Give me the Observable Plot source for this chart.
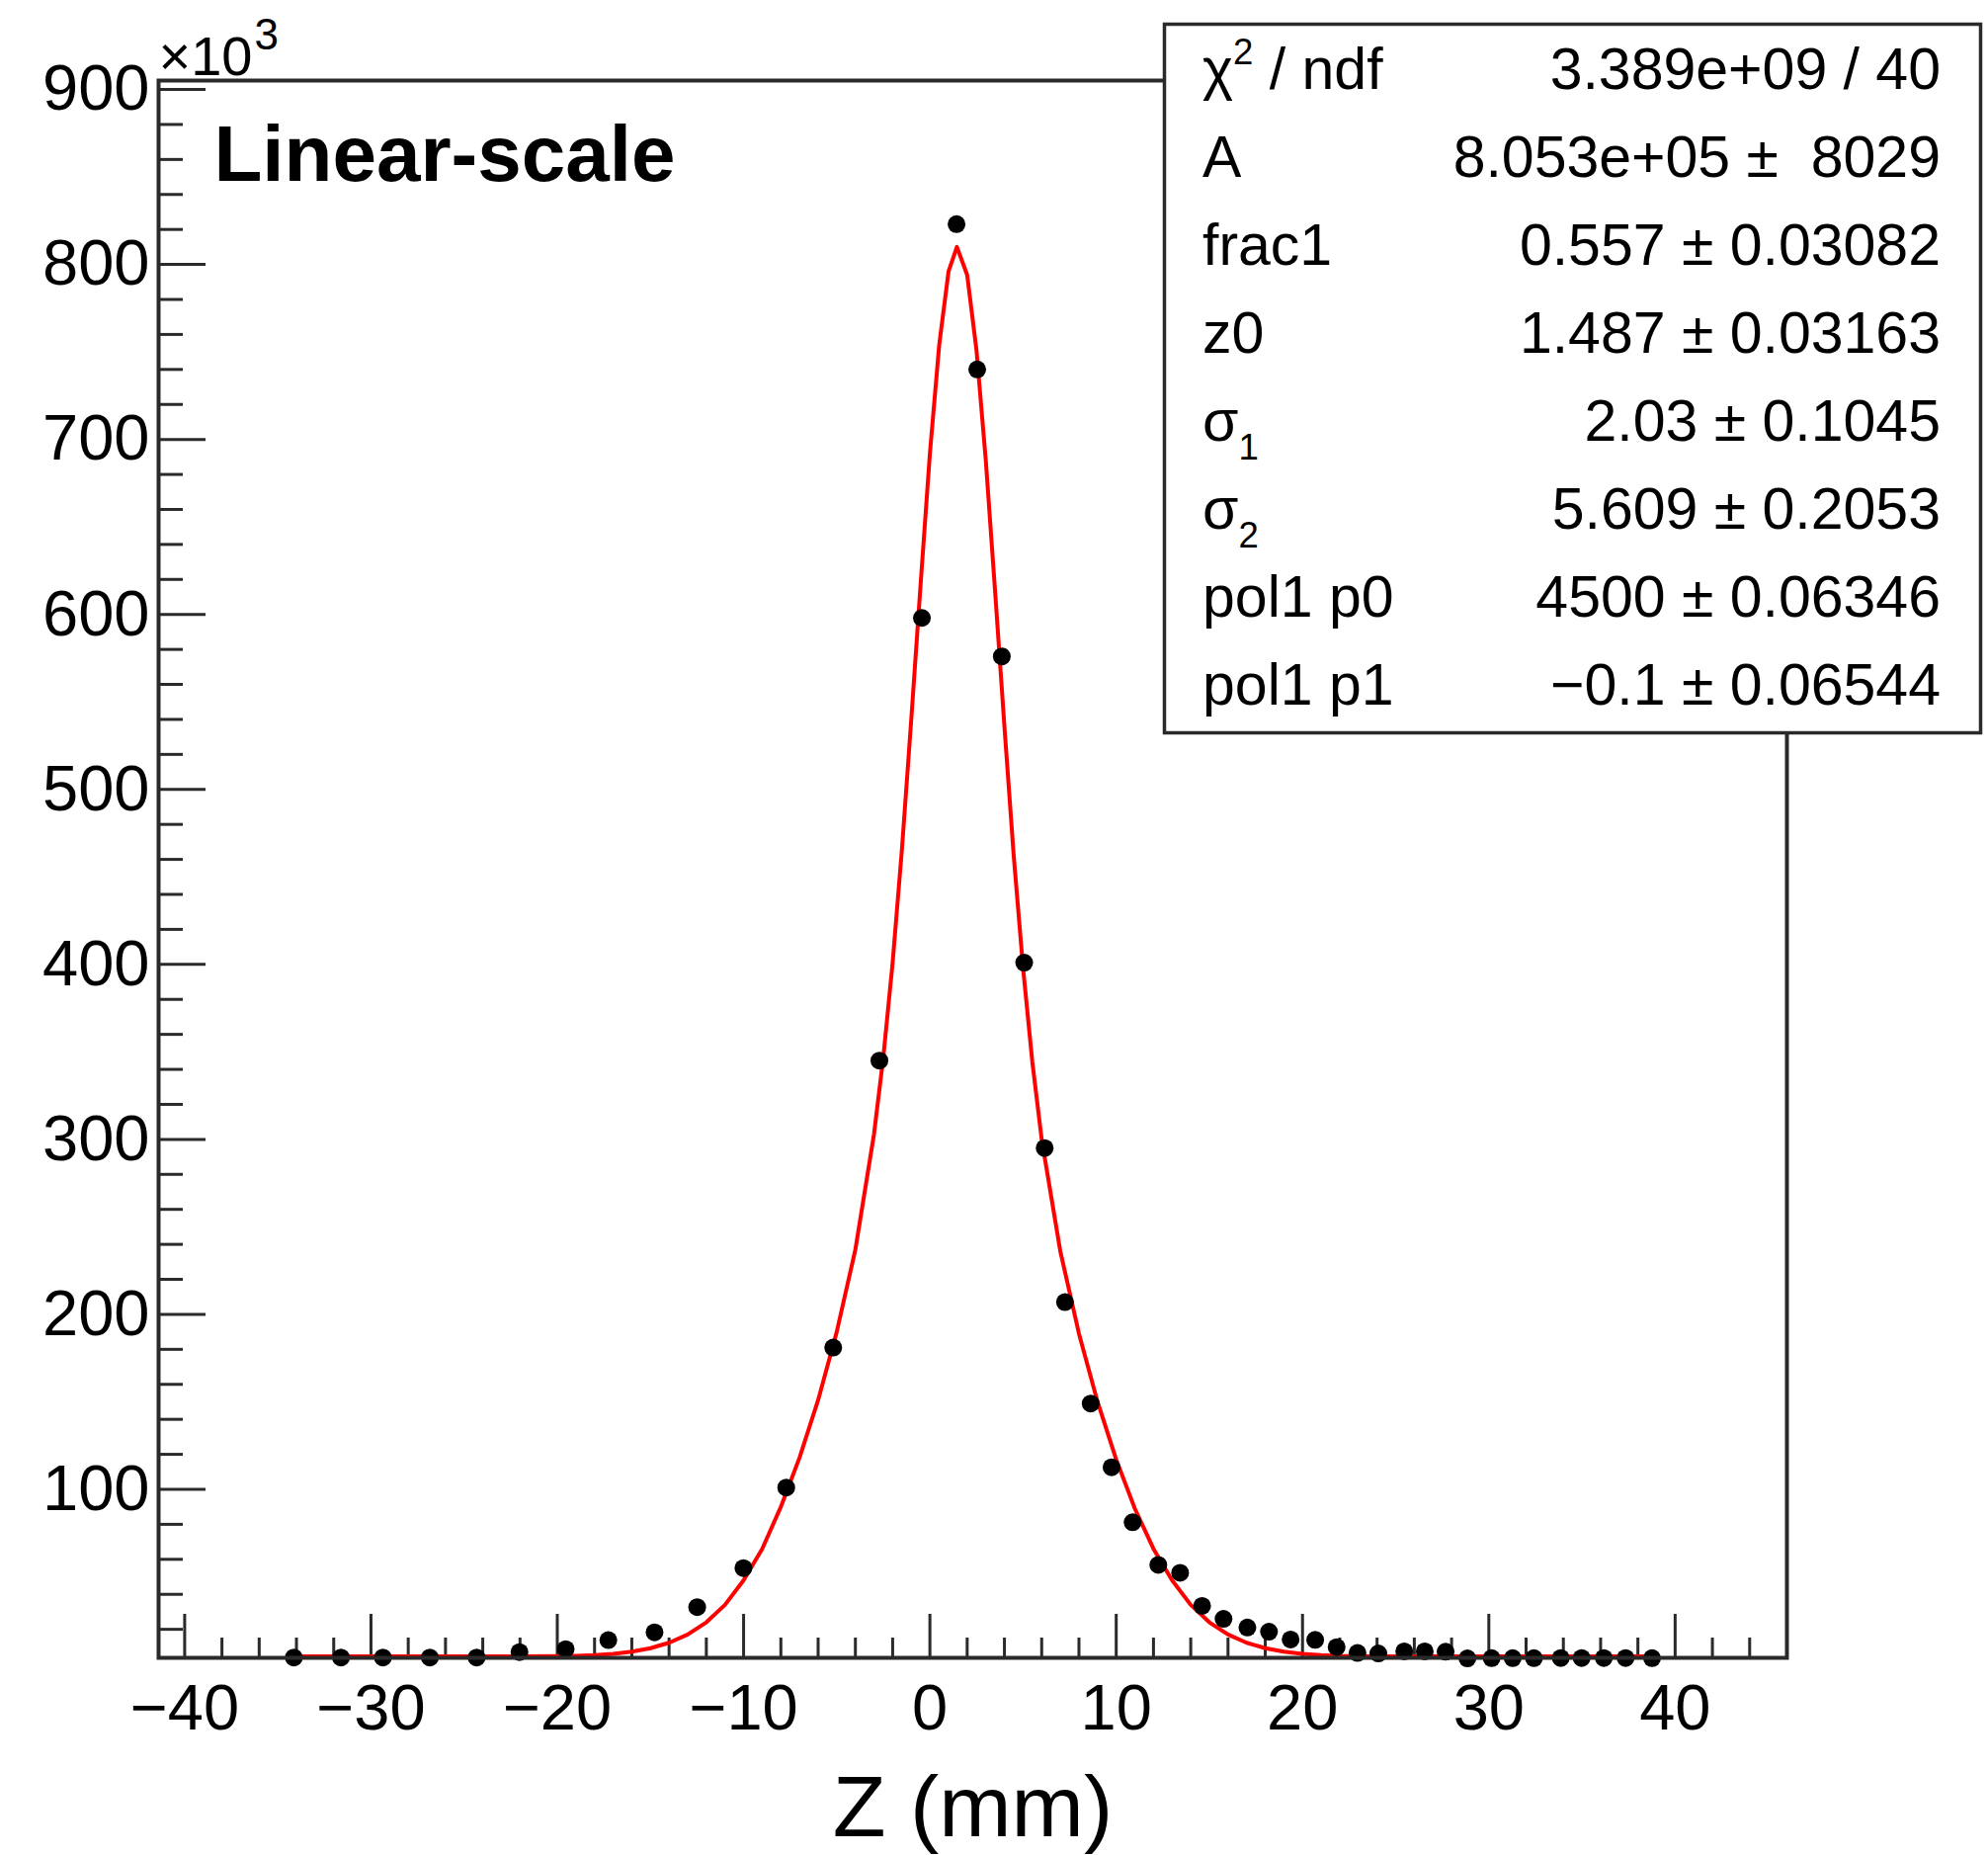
<!DOCTYPE html>
<html>
<head>
<meta charset="utf-8">
<script src="https://cdn.jsdelivr.net/npm/d3@7"></script>
<script src="https://cdn.jsdelivr.net/npm/@observablehq/plot@0.6"></script>
<style>
  html, body { margin: 0; padding: 0; background: #fff; }
  #wrap { position: relative; width: 2012px; height: 1877px; overflow: hidden; }
  #wrap svg { display: block; }
  #stats { position: absolute; left: 0; top: 0; pointer-events: none; }
</style>
</head>
<body>
<div id="wrap"></div>
<script>
// ---------- data (values in units of 10^3 counts) ----------
const zData = [-34.14, -31.61, -29.36, -26.84, -24.33, -22.03, -19.55, -17.26, -14.78, -12.49,
  -10.01, -7.71, -5.19, -2.71, -0.43, 1.43, 2.54, 3.86, 5.06, 6.16,
  7.25, 8.63, 9.75, 10.88, 12.26, 13.43, 14.61, 15.76, 17.04, 18.2,
  19.36, 20.68, 21.83, 22.95, 24.07, 25.46, 26.56, 27.68, 28.85, 30.15,
  31.28, 32.42, 33.86, 34.98, 36.17, 37.34, 38.76];
const vData = [3.9, 3.9, 3.9, 3.9, 3.9, 7.0, 8.7, 13.8, 18.3, 32.7,
  55.0, 101, 181, 345, 598, 823, 740, 576, 401, 295,
  207, 149, 112.6, 81.2, 56.8, 52.3, 33.4, 26.0, 21.0, 18.6,
  14.2, 14.0, 9.8, 6.5, 6.2, 7.4, 7.4, 7.2, 3.4, 3.5,
  3.5, 3.5, 3.6, 3.6, 3.6, 3.6, 3.5];

// fit curve
const zFit = [-34.1, -30, -26, -22, -20, -19, -18, -17, -16, -15, -14, -13, -12, -11, -10,
  -9, -8, -7, -6, -5, -4, -3, -2.5, -2, -1.5, -1, -0.5, 0, 0.5, 1.0, 1.45,
  2.0, 2.5, 3, 3.5, 4, 4.5, 5, 5.5, 6, 7, 8, 9, 10, 11, 12, 13, 14, 15,
  16, 17, 18, 19, 20, 21, 22, 24, 27, 32, 38.8];
const vFit = [4.5, 4.5, 4.5, 4.6, 4.7, 4.9, 5.3, 6.0, 7.2, 9.2, 12.3, 17, 24, 34, 48,
  66, 90, 118, 151, 190, 237, 303, 347, 401, 466, 540, 617, 692, 754, 796, 810,
  794, 751, 688, 613, 536, 462, 398, 344, 300, 236, 189, 150, 117, 89, 66, 48, 34, 24,
  17, 12.3, 9.2, 7.2, 6.0, 5.3, 4.9, 4.6, 4.5, 4.5, 4.5];

const xMajor = [-40, -30, -20, -10, 0, 10, 20, 30, 40];
const xMinor = [-38, -36, -34, -32, -28, -26, -24, -22, -18, -16, -14, -12, -8, -6, -4, -2,
  2, 4, 6, 8, 12, 14, 16, 18, 22, 24, 26, 28, 32, 34, 36, 38, 42, 44];
const yMajor = [100, 200, 300, 400, 500, 600, 700, 800, 900];
const yMinor = [20, 40, 60, 80, 120, 140, 160, 180, 220, 240, 260, 280, 320, 340, 360, 380,
  420, 440, 460, 480, 520, 540, 560, 580, 620, 640, 660, 680, 720, 740, 760, 780,
  820, 840, 860, 880];

const statLabels = ["χ^2 / ndf", "A", "frac1", "z0", "σ_1", "σ_2", "pol1 p0", "pol1 p1"];
const statValues = ["3.389e+09 / 40", "8.053e+05 ±  8029", "0.557 ± 0.03082", "1.487 ± 0.03163",
  "2.03 ± 0.1045", "5.609 ± 0.2053", "4500 ± 0.06346", "−0.1 ± 0.06544"];

const xLabel = "Z (mm)";
const tag = "Linear-scale";
const multiplier = "×10";
const multiplierExp = "3";

// ---------- layout ----------
const W = 2012, H = 1877;
const mL = 160, mR = 204, mT = 81, mB = 200;
const plotW = W - mL - mR, plotH = H - mT - mB;
const FONT = "'Liberation Sans', Arial, Helvetica, sans-serif";
const axisColor = "#2a2a2a";

const data = zData.map((z, i) => ({z, v: vData[i]}));
const fit = zFit.map((z, i) => ({z, v: vFit[i]}));
const fmt = d => (d < 0 ? "\u2212" + Math.abs(d) : String(d));

const chart = Plot.plot({
  width: W, height: H,
  marginLeft: mL, marginRight: mR, marginTop: mT, marginBottom: mB,
  x: {domain: [-41.4, 46.0], label: null},
  y: {domain: [3.7, 905.1], label: null},
  style: {fontFamily: FONT, fontSize: "64px", color: "#000", background: "#fff", overflow: "visible"},
  marks: [
    Plot.tickY(yMajor, {y: d => d, insetRight: plotW - 48, stroke: axisColor, strokeWidth: 3}),
    Plot.tickY(yMinor, {y: d => d, insetRight: plotW - 25, stroke: axisColor, strokeWidth: 3}),
    Plot.tickX(xMajor, {x: d => d, insetTop: plotH - 44, stroke: axisColor, strokeWidth: 3}),
    Plot.tickX(xMinor, {x: d => d, insetTop: plotH - 20, stroke: axisColor, strokeWidth: 3}),
    Plot.axisY({ticks: yMajor, tickSize: 0, tickPadding: 9, label: null, fontSize: 65, tickFormat: fmt}),
    Plot.axisX({ticks: xMajor, tickSize: 0, tickPadding: 26, label: null, fontSize: 65, tickFormat: fmt}),
    Plot.line(fit, {x: "z", y: "v", stroke: "#ff0000", strokeWidth: 4}),
    Plot.dot(data, {x: "z", y: "v", r: 9, fill: "#000"}),
    Plot.frame({stroke: axisColor, strokeWidth: 4}),
    Plot.text([xLabel], {text: d => d, frameAnchor: "bottom", dy: 180, lineAnchor: "bottom", fontSize: 88, fill: "#000"}),
    Plot.text([tag], {text: d => d, frameAnchor: "top-left", dx: 56, dy: 101, lineAnchor: "bottom", textAnchor: "start", fontSize: 80, fontWeight: "bold", fill: "#000"}),
    Plot.text([multiplier], {text: d => d, frameAnchor: "top-left", dx: 0, dy: -6, lineAnchor: "bottom", textAnchor: "start", fontSize: 56, fill: "#000"}),
    Plot.text([multiplierExp], {text: d => d, frameAnchor: "top-left", dx: 97, dy: -32, lineAnchor: "bottom", textAnchor: "start", fontSize: 44, fill: "#000"})
  ]
});

const wrap = document.getElementById("wrap");
wrap.appendChild(chart);

// ---------- statistics box ----------
const box = {x: 1178.5, y: 24.5, w: 826, h: 717};
const rowBase0 = 90, rowStep = 89, labX = 1217, valX = 1964, statFont = 59;

const svg = d3.select(wrap).append("svg")
  .attr("id", "stats").attr("width", W).attr("height", H)
  .style("font-family", FONT);
svg.append("rect").attr("x", box.x).attr("y", box.y).attr("width", box.w).attr("height", box.h)
  .attr("fill", "#fff").attr("stroke", axisColor).attr("stroke-width", 3.5);

statLabels.forEach((lab, i) => {
  const t = svg.append("text").attr("x", labX).attr("y", rowBase0 + i * rowStep)
    .attr("font-size", statFont).attr("fill", "#000").style("white-space", "pre");
  const m = lab.match(/^(.*?)([\^_])(.)(.*)$/);
  if (m) {
    t.append("tspan").text(m[1]);
    const up = m[2] === "^";
    t.append("tspan").attr("font-size", statFont * 0.62)
      .attr("dy", up ? -statFont * 0.42 : statFont * 0.32).text(m[3]);
    if (m[4]) t.append("tspan").attr("dy", up ? statFont * 0.42 : -statFont * 0.32).text(m[4]);
  } else {
    t.text(lab);
  }
});
statValues.forEach((val, i) => {
  svg.append("text").attr("x", valX).attr("y", rowBase0 + i * rowStep)
    .attr("font-size", statFont).attr("fill", "#000").attr("text-anchor", "end")
    .style("white-space", "pre").text(val);
});
</script>
</body>
</html>
